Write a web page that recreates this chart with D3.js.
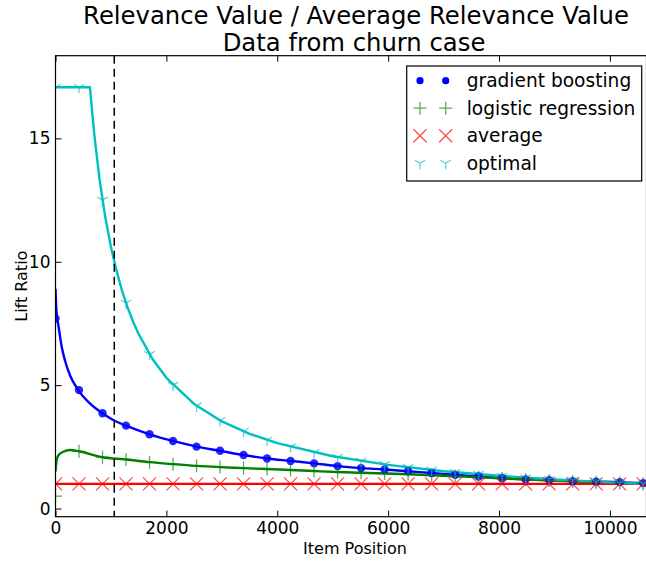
<!DOCTYPE html>
<html>
<head>
<meta charset="utf-8">
<script src="https://cdn.jsdelivr.net/npm/d3@7"></script>
<style>
  html, body { margin: 0; padding: 0; background: #fff; }
  svg { display: block; font-family: "DejaVu Sans", sans-serif; }
</style>
</head>
<body>
<svg id="chart" width="646" height="563"></svg>
<script>
// ---- data -------------------------------------------------------------
const titleLines = ["Relevance Value / Aveerage Relevance Value", "Data from churn case"];
const seriesNames = ["gradient boosting", "logistic regression", "average", "optimal"];
const xTicks = [0, 2000, 4000, 6000, 8000, 10000];
const yTicks = [0, 5, 10, 15];
const cutoffItem = 1060;

// item positions where markers are placed
const markItems = [0, 424, 848, 1272, 1696, 2120, 2544, 2968, 3392, 3816, 4240, 4664, 5088,
  5512, 5936, 6360, 6784, 7208, 7632, 8056, 8480, 8904, 9328, 9752, 10176, 10600];

const gbMarks = [7.7, 4.8, 3.86, 3.36, 3.01, 2.74, 2.51, 2.34, 2.17, 2.03, 1.93, 1.83, 1.72,
  1.64, 1.58, 1.51, 1.44, 1.37, 1.30, 1.24, 1.18, 1.15, 1.11, 1.09, 1.07, 1.03];
const lrMarks = [0.5, 2.32, 2.08, 1.99, 1.88, 1.80, 1.73, 1.68, 1.64, 1.60, 1.56, 1.52, 1.48,
  1.45, 1.42, 1.39, 1.35, 1.31, 1.27, 1.22, 1.18, 1.14, 1.10, 1.07, 1.04, 1.01];
const avgMarks = [1, 1, 1, 1, 1, 1, 1, 1, 1, 1, 1, 1, 1, 1, 1, 1, 1, 1, 1, 1, 1, 1, 1, 1, 1, 1];
const optMarks = [17.07, 17.07, 12.5, 8.33, 6.25, 5.0, 4.17, 3.57, 3.13, 2.78, 2.5, 2.27, 2.08,
  1.92, 1.79, 1.67, 1.56, 1.47, 1.39, 1.32, 1.25, 1.19, 1.14, 1.09, 1.04, 1.0];

// curve samples
const gbLineItems = [0, 10, 30, 50, 80, 112, 171, 261, 411, 620, 848, 1040, 1272, 1696, 2120,
  2544, 2968, 3392, 3816, 4240, 4664, 5088, 5512, 5936, 6360, 6784, 7208, 7632, 8056, 8480,
  8904, 9328, 9752, 10176, 10600];
const gbLineValues = [8.9, 8.3, 7.7, 7.45, 7.0, 6.56, 6.0, 5.4, 4.8, 4.26, 3.86, 3.59, 3.36,
  3.01, 2.74, 2.51, 2.34, 2.17, 2.03, 1.93, 1.83, 1.72, 1.64, 1.58, 1.51, 1.44, 1.37, 1.30,
  1.24, 1.18, 1.15, 1.11, 1.09, 1.07, 1.03];

const lrLineItems = [0, 20, 50, 140, 260, 424, 848, 1272, 1696, 2120, 2544, 2968, 3392, 3816,
  4240, 4664, 5088, 5512, 5936, 6360, 6784, 7208, 7632, 8056, 8480, 8904, 9328, 9752, 10176, 10600];
const lrLineValues = [1.5, 1.95, 2.15, 2.3, 2.37, 2.32, 2.08, 1.99, 1.88, 1.80, 1.73, 1.68,
  1.64, 1.60, 1.56, 1.52, 1.48, 1.45, 1.42, 1.39, 1.35, 1.31, 1.27, 1.22, 1.18, 1.14, 1.10,
  1.07, 1.04, 1.01];

const avgLineItems = [0, 10600];
const avgLineValues = [1, 1];

const optLineItems = [0, 621, 700, 800, 900, 1000, 1100, 1200, 1300, 1400, 1500, 1750, 2000,
  2500, 3000, 3500, 4000, 5000, 6000, 7000, 8000, 9000, 10000, 10600];
const optLineValues = [17.07, 17.07, 15.14, 13.25, 11.78, 10.6, 9.64, 8.83, 8.15, 7.57, 7.07,
  6.06, 5.3, 4.24, 3.53, 3.03, 2.65, 2.12, 1.77, 1.51, 1.33, 1.18, 1.06, 1.0];

// ---- layout -----------------------------------------------------------
const svg = d3.select("#chart");
const plot = { left: 55.5, right: 646.5, top: 55.7, bottom: 516.7 };

const x = d3.scaleLinear().domain([0, 10660]).range([plot.left, plot.right]);
const y = d3.scaleLinear().domain([-0.33, 18.35]).range([plot.bottom, plot.top]);

const colors = { gb: "#0000ff", lr: "#008000", avg: "#ff0000", opt: "#00bfbf" };

svg.append("defs").append("clipPath").attr("id", "plotClip")
  .append("rect")
  .attr("x", plot.left).attr("y", plot.top)
  .attr("width", plot.right - plot.left).attr("height", plot.bottom - plot.top);

const zip = (xs, ys) => xs.map((d, i) => [d, ys[i]]);

// ---- marker shapes ----------------------------------------------------
function drawMarker(g, kind, cx, cy, color) {
  if (kind === "dot") {
    g.append("circle").attr("cx", cx).attr("cy", cy).attr("r", 4.2)
      .attr("fill", color).attr("fill-opacity", 0.85).attr("stroke", "none");
  } else if (kind === "plus") {
    const s = 6.5;
    g.append("path").attr("d", `M${cx - s},${cy}H${cx + s}M${cx},${cy - s}V${cy + s}`)
      .attr("stroke", color).attr("stroke-width", 1.3).attr("stroke-opacity", 0.65).attr("fill", "none");
  } else if (kind === "x") {
    const s = 6.5;
    g.append("path").attr("d", `M${cx - s},${cy - s}L${cx + s},${cy + s}M${cx - s},${cy + s}L${cx + s},${cy - s}`)
      .attr("stroke", color).attr("stroke-width", 1.3).attr("stroke-opacity", 0.7).attr("fill", "none");
  } else if (kind === "tri") {
    const s = 6;
    const a = s * Math.cos(Math.PI / 6), b = s * 0.5;
    g.append("path").attr("d", `M${cx},${cy}V${cy + s}M${cx},${cy}L${cx - a},${cy - b}M${cx},${cy}L${cx + a},${cy - b}`)
      .attr("stroke", color).attr("stroke-width", 1.3).attr("stroke-opacity", 0.65).attr("fill", "none");
  }
}

// ---- axes -------------------------------------------------------------
const fmt = d3.format("d");
const tickLen = 6;

const xAxis = svg.append("g").attr("transform", `translate(0,${plot.bottom})`)
  .call(d3.axisBottom(x).tickValues(xTicks).tickFormat(fmt).tickSizeInner(-tickLen).tickSizeOuter(0).tickPadding(5));
const xAxisTop = svg.append("g").attr("transform", `translate(0,${plot.top})`)
  .call(d3.axisTop(x).tickValues(xTicks).tickFormat("").tickSizeInner(-tickLen).tickSizeOuter(0));
const yAxis = svg.append("g").attr("transform", `translate(${plot.left},0)`)
  .call(d3.axisLeft(y).tickValues(yTicks).tickFormat(fmt).tickSizeInner(-tickLen).tickSizeOuter(0).tickPadding(5));

[xAxis, xAxisTop, yAxis].forEach(g => {
  g.select(".domain").remove();
  g.selectAll(".tick line").attr("stroke", "#000").attr("stroke-width", 1);
  g.selectAll(".tick text").attr("fill", "#000")
    .style("font-family", "'DejaVu Sans', sans-serif").style("font-size", "17px");
});

// ---- series -----------------------------------------------------------
const lines = svg.append("g").attr("clip-path", "url(#plotClip)");
const lineGen = d3.line().x(d => x(d[0])).y(d => y(d[1]));

const series = [
  { key: "gb", items: gbLineItems, values: gbLineValues, marks: gbMarks, marker: "dot", curve: d3.curveMonotoneX },
  { key: "lr", items: lrLineItems, values: lrLineValues, marks: lrMarks, marker: "plus", curve: d3.curveMonotoneX },
  { key: "avg", items: avgLineItems, values: avgLineValues, marks: avgMarks, marker: "x", curve: d3.curveLinear },
  { key: "opt", items: optLineItems, values: optLineValues, marks: optMarks, marker: "tri", curve: d3.curveLinear }
];

series.forEach(s => {
  lines.append("path")
    .attr("d", lineGen.curve(s.curve)(zip(s.items, s.values)))
    .attr("fill", "none").attr("stroke", colors[s.key]).attr("stroke-width", 2.4)
    .attr("stroke-linejoin", "round");
});

const markers = svg.append("g").attr("clip-path", "url(#plotClip)");
series.forEach(s => {
  const g = markers.append("g");
  markItems.forEach((it, i) => drawMarker(g, s.marker, x(it), y(s.marks[i]), colors[s.key]));
});

// vertical cutoff
svg.append("line")
  .attr("x1", x(cutoffItem)).attr("x2", x(cutoffItem))
  .attr("y1", plot.top).attr("y2", plot.bottom)
  .attr("stroke", "#000").attr("stroke-width", 1.5).attr("stroke-dasharray", "8,5");

// frame
svg.append("rect")
  .attr("x", plot.left).attr("y", plot.top)
  .attr("width", plot.right - plot.left).attr("height", plot.bottom - plot.top)
  .attr("fill", "none").attr("stroke", "#000").attr("stroke-width", 1.2);

// ---- titles -----------------------------------------------------------
const cx = 356;
svg.append("text").attr("x", cx).attr("y", 24).attr("text-anchor", "middle")
  .style("font-size", "24.3px").attr("fill", "#000").text(titleLines[0]);
svg.append("text").attr("x", cx - 2).attr("y", 51).attr("text-anchor", "middle")
  .style("font-size", "24.3px").attr("fill", "#000").text(titleLines[1]);

svg.append("text").attr("x", (plot.left + plot.right) / 2 + 4).attr("y", 554).attr("text-anchor", "middle")
  .style("font-size", "16px").attr("fill", "#000").text("Item Position");
svg.append("text")
  .attr("transform", `translate(27,${(plot.top + plot.bottom) / 2}) rotate(-90)`)
  .attr("text-anchor", "middle").style("font-size", "16px").attr("fill", "#000").text("Lift Ratio");

// ---- legend -----------------------------------------------------------
const legend = svg.append("g");
legend.append("rect").attr("x", 406.7).attr("y", 66).attr("width", 235).attr("height", 115)
  .attr("fill", "#fff").attr("stroke", "#000").attr("stroke-width", 1.2);
const legendKeys = ["gb", "lr", "avg", "opt"];
const legendMarkers = ["dot", "plus", "x", "tri"];
legendKeys.forEach((k, i) => {
  const ry = 80.7 + i * 27.5;
  const g = legend.append("g");
  [420, 445.7].forEach(mx => {
    if (legendMarkers[i] === "dot") {
      g.append("circle").attr("cx", mx).attr("cy", ry).attr("r", 3.6).attr("fill", colors[k]);
    } else {
      drawMarker(g, legendMarkers[i], mx, ry, colors[k]);
    }
  });
  legend.append("text").attr("x", 466.7).attr("y", ry + 6.5)
    .style("font-size", "18.6px").attr("fill", "#000").text(seriesNames[i]);
});
</script>
</body>
</html>
